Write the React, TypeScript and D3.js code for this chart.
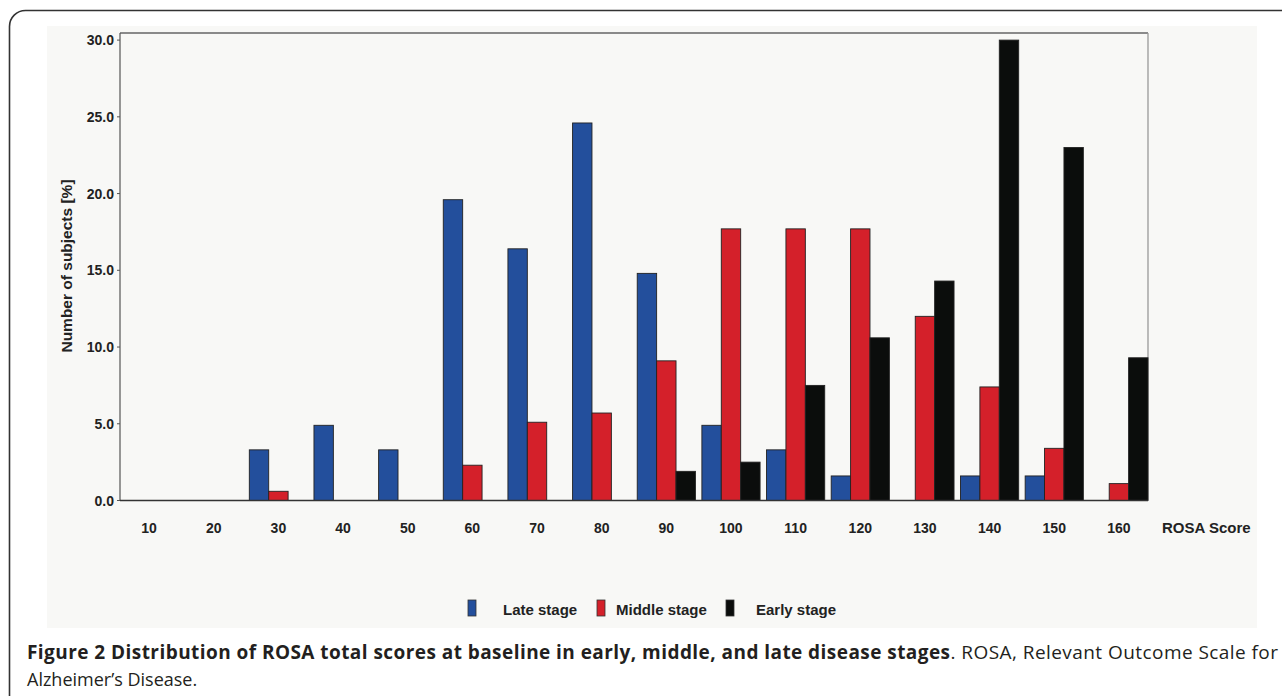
import React, { useEffect, useRef } from 'react';
import * as d3 from 'd3';

const scores = ['10', '20', '30', '40', '50', '60', '70', '80', '90', '100', '110', '120', '130', '140', '150', '160'];
const lateStage = [0, 0, 3.3, 4.9, 3.3, 19.6, 16.4, 24.6, 14.8, 4.9, 3.3, 1.6, 0, 1.6, 1.6, 0];
const middleStage = [0, 0, 0.6, 0, 0, 2.3, 5.1, 5.7, 9.1, 17.7, 17.7, 17.7, 12.0, 7.4, 3.4, 1.1];
const earlyStage = [0, 0, 0, 0, 0, 0, 0, 0, 1.9, 2.5, 7.5, 10.6, 14.3, 30.0, 23.0, 9.3];
const yTicks = [0, 5, 10, 15, 20, 25, 30];

const series = [
  { name: 'Late stage', values: lateStage, color: '#234f9c' },
  { name: 'Middle stage', values: middleStage, color: '#d4202a' },
  { name: 'Early stage', values: earlyStage, color: '#0b0d0c' },
];

const App: React.FC = () => {
  const svgRef = useRef<SVGSVGElement>(null);

  useEffect(() => {
    if (!svgRef.current) return;
    const svg = d3.select(svgRef.current);
    svg.selectAll('*').remove();

    const font = 'Liberation Sans, Arial, sans-serif';
    const left = 120, right = 1148, top = 33, bottom = 500.5;

    // outer figure frame and grey panel
    svg.append('rect')
      .attr('x', 9.5).attr('y', 10.5).attr('width', 1320).attr('height', 740)
      .attr('rx', 16)
      .style('fill', '#fff').style('stroke', '#333').style('stroke-width', 1.6);
    svg.append('rect')
      .attr('x', 47).attr('y', 26).attr('width', 1210).attr('height', 602)
      .style('fill', '#f8f8f6');

    const x0 = d3.scaleBand<string>().domain(scores).range([left, right]).paddingInner(0.1).paddingOuter(0);
    const x1 = d3.scaleBand<string>().domain(series.map(s => s.name)).range([0, x0.bandwidth()]);
    const y = d3.scaleLinear().domain([0, 30]).range([bottom, 40.1]);

    // plot box
    svg.append('line').attr('x1', left).attr('x2', right).attr('y1', top).attr('y2', top)
      .style('stroke', '#666').style('stroke-width', 1.3);
    svg.append('line').attr('x1', right).attr('x2', right).attr('y1', top).attr('y2', bottom)
      .style('stroke', '#999').style('stroke-width', 1.3);

    // bars
    series.forEach(s => {
      svg.append('g').selectAll('rect')
        .data(s.values.map((v, i) => ({ key: scores[i], v })).filter(d => d.v > 0))
        .enter()
        .append('rect')
        .attr('x', d => (x0(d.key) as number) + (x1(s.name) as number))
        .attr('y', d => y(d.v))
        .attr('width', x1.bandwidth())
        .attr('height', d => bottom - y(d.v))
        .style('fill', s.color)
        .style('stroke', '#222')
        .style('stroke-width', 0.9);
    });

    // axes
    svg.append('line').attr('x1', left).attr('x2', left).attr('y1', top).attr('y2', bottom)
      .style('stroke', '#555').style('stroke-width', 1.2);
    svg.append('line').attr('x1', left).attr('x2', right).attr('y1', bottom).attr('y2', bottom)
      .style('stroke', '#333').style('stroke-width', 1.4);

    const yg = svg.append('g');
    yTicks.forEach(t => {
      yg.append('line').attr('x1', left - 3).attr('x2', left).attr('y1', y(t)).attr('y2', y(t))
        .style('stroke', '#555');
      yg.append('text')
        .attr('x', left - 6).attr('y', y(t) + 5)
        .attr('text-anchor', 'end')
        .style('font-family', font).style('font-size', '14px').style('font-weight', 'bold')
        .style('fill', '#222')
        .text(d3.format('.1f')(t));
    });

    svg.append('text')
      .attr('transform', `translate(72, ${266}) rotate(-90)`)
      .attr('text-anchor', 'middle')
      .style('font-family', font).style('font-size', '15.5px').style('font-weight', 'bold')
      .style('fill', '#222')
      .text('Number of subjects [%]');

    scores.forEach(sc => {
      svg.append('text')
        .attr('x', (x0(sc) as number) + x0.bandwidth() / 2)
        .attr('y', 533)
        .attr('text-anchor', 'middle')
        .style('font-family', font).style('font-size', '14px').style('font-weight', 'bold')
        .style('fill', '#222')
        .text(sc);
    });
    svg.append('text')
      .attr('x', 1162).attr('y', 533)
      .style('font-family', font).style('font-size', '15px').style('font-weight', 'bold')
      .style('fill', '#222')
      .text('ROSA Score');

    // legend
    const legendX = [468, 597, 726];
    const legendTextX = [503, 616, 756];
    series.forEach((s, i) => {
      svg.append('rect')
        .attr('x', legendX[i]).attr('y', 600).attr('width', 8).attr('height', 16)
        .style('fill', s.color).style('stroke', '#333').style('stroke-width', 0.8);
      svg.append('text')
        .attr('x', legendTextX[i]).attr('y', 615)
        .style('font-family', font).style('font-size', '15px').style('font-weight', 'bold')
        .style('fill', '#222')
        .text(s.name);
    });

    // caption
    const capFont = 'Open Sans, Noto Sans, sans-serif';
    const cap = svg.append('text')
      .attr('x', 27).attr('y', 659)
      .attr('textLength', 1251).attr('lengthAdjust', 'spacing')
      .style('font-family', capFont).style('font-size', '19px')
      .style('fill', '#231f20');
    cap.append('tspan').style('font-weight', 'bold')
      .text('Figure 2 Distribution of ROSA total scores at baseline in early, middle, and late disease stages');
    cap.append('tspan').style('font-weight', 'normal')
      .text('. ROSA, Relevant Outcome Scale for');
    svg.append('text')
      .attr('x', 27).attr('y', 686)
      .style('font-family', capFont).style('font-size', '18px')
      .style('fill', '#231f20')
      .text('Alzheimer\u2019s Disease.');
  }, []);

  return (
    <svg ref={svgRef} width={1282} height={696}
      style={{ position: 'absolute', left: 0, top: 0, background: '#fff' }} />
  );
};

export default App;
